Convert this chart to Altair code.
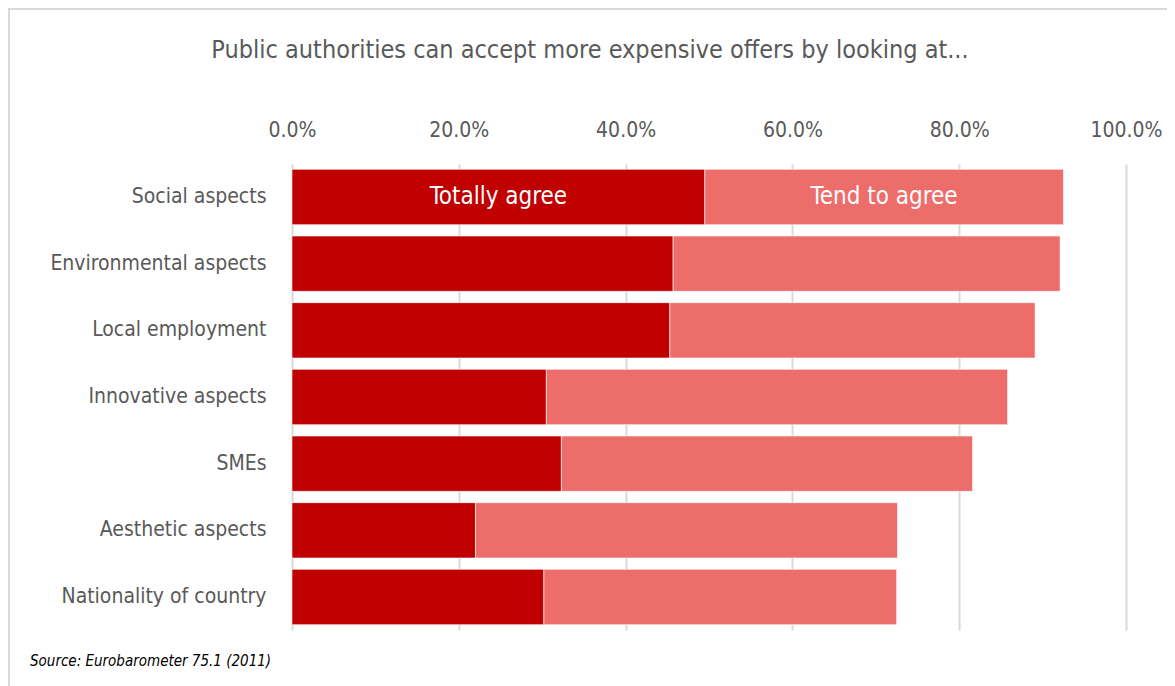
import altair as alt
import pandas as pd

categories = ["Social aspects", "Environmental aspects", "Local employment",
              "Innovative aspects", "SMEs", "Aesthetic aspects", "Nationality of country"]
totally_agree = [49.5, 45.7, 45.3, 30.5, 32.3, 22.0, 30.2]
tend_to_agree = [43.0, 46.4, 43.8, 55.3, 49.3, 50.6, 42.3]
series_names = ["Totally agree", "Tend to agree"]
series_colors = ["#C00000", "#ED6D6B"]
x_ticks = [0, 20, 40, 60, 80, 100]

title_text = "Public authorities can accept more expensive offers by looking at..."
source_text = "Source: Eurobarometer 75.1 (2011)"

FONT = "DejaVu Sans Condensed"
W, H = 834, 466
PAD_L, PAD_T = 284, 156

rows = []
for c, a, b in zip(categories, totally_agree, tend_to_agree):
    rows.append({"cat": c, "series": series_names[0], "start": 0.0, "end": a, "val": a})
    rows.append({"cat": c, "series": series_names[1], "start": a, "end": a + b, "val": b})
df = pd.DataFrame(rows)
df["mid"] = (df["start"] + df["end"]) / 2

y_scale = alt.Scale(paddingInner=0.17, paddingOuter=0.08)
y_axis = alt.Axis(labelFont=FONT, labelFontSize=21, labelColor="#595959",
                  labelPadding=26, ticks=False, domain=False, grid=False,
                  labelLimit=300)
x_scale = alt.Scale(domain=[0, 100], nice=False)
x_axis = alt.Axis(orient="top", values=x_ticks,
                  labelExpr="format(datum.value, '.1f') + '%'",
                  labelFont=FONT, labelFontSize=21, labelColor="#595959",
                  labelPadding=24, labelFlush=False, ticks=False, domain=False,
                  grid=True, gridColor="#D9D9D9", gridWidth=2)

bars = alt.Chart(df).mark_bar(stroke="white", strokeWidth=0.6).encode(
    x=alt.X("start:Q", scale=x_scale, title=None, axis=x_axis),
    x2="end:Q",
    y=alt.Y("cat:N", sort=categories, title=None, scale=y_scale, axis=y_axis),
    color=alt.Color("series:N", scale=alt.Scale(domain=series_names, range=series_colors),
                    legend=None),
)

labels = alt.Chart(df).transform_filter(
    alt.datum.cat == categories[0]
).mark_text(font=FONT, fontSize=24, color="white", baseline="middle").encode(
    x=alt.X("mid:Q", scale=x_scale, title=None, axis=x_axis),
    y=alt.Y("cat:N", sort=categories, title=None, scale=y_scale, axis=y_axis),
    text="series:N",
)

frame_df = pd.DataFrame({"k": [0]})
frame = alt.Chart(frame_df).mark_rect(fill=None, stroke="#D9D9D9", strokeWidth=2, clip=False).encode(
    x=alt.value(-PAD_L + 1), x2=alt.value(W + 300),
    y=alt.value(-PAD_T + 1), y2=alt.value(H + 300),
)

src_df = pd.DataFrame({"t": [source_text]})
source = alt.Chart(src_df).mark_text(font=FONT, fontSize=15, fontStyle="italic", color="black",
                                    align="left", baseline="middle").encode(
    x=alt.value(-262), y=alt.value(497), text="t:N"
)

title_df = pd.DataFrame({"t": [title_text]})
title = alt.Chart(title_df).mark_text(font=FONT, fontSize=25, color="#595959",
                                      align="center", baseline="middle").encode(
    x=alt.value(590 - 292), y=alt.value(50 - 164), text="t:N"
)

chart = alt.layer(frame, bars, labels, source, title).properties(
    width=W, height=H,
    background="white",
    autosize=alt.AutoSizeParams(type="none"),
    padding={"left": PAD_L, "top": PAD_T, "right": 41, "bottom": 64},
).configure_view(strokeWidth=0, stroke=None)

chart.save("out.html", embed_options={"renderer": "svg", "actions": False})
